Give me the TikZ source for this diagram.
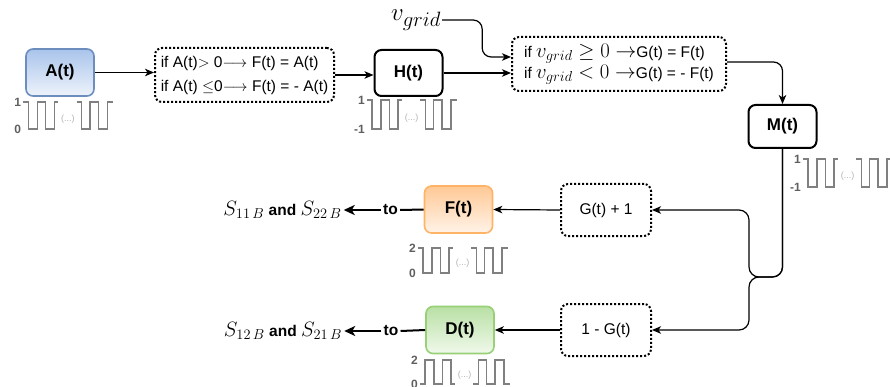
\IfFileExists{fix-cm.sty}{\RequirePackage{fix-cm}}{}
\documentclass[tikz,border=0pt]{standalone}
\usepackage[no-math]{fontspec}
\setmainfont{Liberation Sans}
\usetikzlibrary{arrows.meta}

\definecolor{aTop}{HTML}{A9C4EB}
\definecolor{aBot}{HTML}{EEF3FB}
\definecolor{aLine}{HTML}{6C8EBF}
\definecolor{fTop}{HTML}{FFC996}
\definecolor{fBot}{HTML}{FFF3E8}
\definecolor{fLine}{HTML}{FFB366}
\definecolor{dTop}{HTML}{B9E0A5}
\definecolor{dBot}{HTML}{F0F9EB}
\definecolor{dLine}{HTML}{97D077}
\definecolor{waveGray}{HTML}{808080}
\definecolor{lvlGray}{HTML}{5F5F5F}
\definecolor{dotGray}{HTML}{B3B3B3}

% math set at a chosen size inside sans text
\newcommand\mathsz[2]{{\fontsize{#1}{#1}\selectfont$#2$}}

\tikzset{
  blk/.style={draw=black, line width=2pt, rounded corners=7pt, fill=white,
    minimum width=68pt, minimum height=46pt, inner sep=0pt,
    font=\bfseries\fontsize{17}{20}\selectfont},
  colbox/.style={line width=1.6pt, rounded corners=7pt,
    minimum width=68pt, minimum height=47pt, inner sep=0pt,
    font=\bfseries\fontsize{17}{20}\selectfont},
  dotbox/.style={draw=black, line width=2pt, dash pattern=on 2pt off 2pt,
    rounded corners=7pt, inner sep=0pt, align=left,
    font=\fontsize{15.5}{24}\selectfont},
  arr/.style={-{Stealth[length=9pt,width=7.5pt,inset=2.5pt]}, line width=1.2pt},
  bigarr/.style={-{Stealth[length=11pt,width=10pt,inset=3pt]}, line width=2.2pt},
  wave/.style={draw=waveGray, line width=1.3pt},
  lvl/.style={font=\bfseries\fontsize{12}{14}\selectfont, text=lvlGray,
    inner sep=0pt, anchor=east},
  dotlbl/.style={font=\fontsize{9}{10}\selectfont, text=dotGray, inner sep=0pt},
  plain/.style={inner sep=2pt, font=\fontsize{15.5}{18}\selectfont},
  % square wave that starts at the high level
  pics/wavehi/.style n args={3}{code={
    \draw[wave] (-5,0) -- (0,0) -- (0,#1) -- (9,#1) -- (9,0) -- (17.4,0)
      -- (17.4,#1) -- (26,#1) -- (26,0) -- (30,0);
    \draw[wave] (48.4,0) -- (53.4,0) -- (53.4,#1) -- (61.7,#1) -- (61.7,0)
      -- (70,0) -- (70,#1) -- (79,#1) -- (79,0) -- (85,0);
    \node[dotlbl] (-d) at (39.5,0.62*#1) {(...)};
    \node[lvl] (-t) at (-7,0) {#2};
    \node[lvl] (-b) at (-7,#1) {#3};
  }},
  % square wave that starts at the low level
  pics/wavelo/.style n args={3}{code={
    \draw[wave] (-5,#1) -- (0,#1) -- (0,0) -- (9,0) -- (9,#1) -- (17.4,#1)
      -- (17.4,0) -- (26,0) -- (26,#1) -- (30,#1);
    \draw[wave] (48.4,#1) -- (53.4,#1) -- (53.4,0) -- (61.7,0) -- (61.7,#1)
      -- (70,#1) -- (70,0) -- (79,0) -- (79,#1) -- (85,#1);
    \node[dotlbl] (-d) at (39.5,0.62*#1) {(...)};
    \node[lvl] (-t) at (-7,0) {#2};
    \node[lvl] (-b) at (-7,#1) {#3};
  }},
}

\begin{document}
\begin{tikzpicture}[x=1pt,y=-1pt]
\useasboundingbox (0,0) rectangle (890,387);

% top row
\node[colbox, draw=aLine, top color=aTop, bottom color=aBot] (A) at (60,72.5) {A(t)};
\node[dotbox, minimum width=179pt, minimum height=54pt] (c1) at (244.5,75)
  {if A(t)$>$ 0$\longrightarrow$ F(t) = A(t)\\
   if A(t) $\leq$0$\longrightarrow$ F(t) = - A(t)};
\node[blk] (H) at (408.5,73) {H(t)};
\node[inner sep=1pt] (vg) at (416,20) {\mathsz{24.88}{v_{grid}}};
\node[dotbox, minimum width=214pt, minimum height=54pt, font=\fontsize{15.5}{21}\selectfont] (c2) at (619,64)
  {if \mathsz{20.74}{v_{grid} \geq 0 \rightarrow}G(t) = F(t)\\
   if \mathsz{20.74}{v_{grid} < 0 \rightarrow}G(t) = - F(t)};
\node[blk, minimum height=43pt] (M) at (782.5,126.5) {M(t)};

% lower rows
\node[dotbox, minimum width=90pt, minimum height=52pt] (g1) at (606,210) {G(t) + 1};
\node[dotbox, minimum width=90pt, minimum height=52pt] (g2) at (606,330) {1 - G(t)};
\node[colbox, draw=fLine, top color=fTop, bottom color=fBot] (F) at (458.5,209.5) {F(t)};
\node[colbox, draw=dLine, top color=dTop, bottom color=dBot] (D) at (460,330) {D(t)};
\node[plain] (to1) at (390.5,210) {\textbf{to}};
\node[plain] (s1) at (282.5,210) {\mathsz{20.74}{S_{11\,B}} \textbf{and} \mathsz{20.74}{S_{22\,B}}};
\node[plain] (to2) at (391,331) {\textbf{to}};
\node[plain] (s2) at (283,331) {\mathsz{20.74}{S_{12\,B}} \textbf{and} \mathsz{20.74}{S_{21\,B}}};

% connectors
\draw[arr] (A.east) -- (A.east -| c1.west);
\draw[arr] (c1.east) -- (c1.east -| H.west);
\draw[arr] (H.east) -- (H.east -| c2.west);
\draw[arr, rounded corners=9pt] (vg.east) -- ++(40,0) |- ([yshift=7pt]c2.west);
\draw[arr, rounded corners=9pt] ([yshift=2pt]c2.east) -| (M.north);
\coordinate (j) at (749,277);
\draw[arr, rounded corners=10pt] (M.south) |- (j) |- (g1.east);
\draw[arr, rounded corners=10pt] (M.south) |- (j) |- (g2.east);
\draw[arr] (g1.west) -- (F.east);
\draw[arr] (g2.west) -- (D.east);
\draw[line width=2pt] (F.west) -- (to1.east);
\draw[bigarr] (to1.west) -- (s1.east);
\draw[line width=2pt] (D.west) -- (to2.east);
\draw[bigarr] (to2.west) -- (s2.east);

% waveforms
\pic (wa) at (28.3,102) {wavehi={27}{1}{0}};
\pic (wh) at (372,100) {wavehi={29}{1}{-1}};
\pic (wm) at (808,159) {wavehi={28}{1}{-1}};
\pic (wf) at (423,248) {wavehi={25}{2}{0}};
\pic (wd) at (425,360) {wavelo={24}{2}{0}};
\end{tikzpicture}
\end{document}
